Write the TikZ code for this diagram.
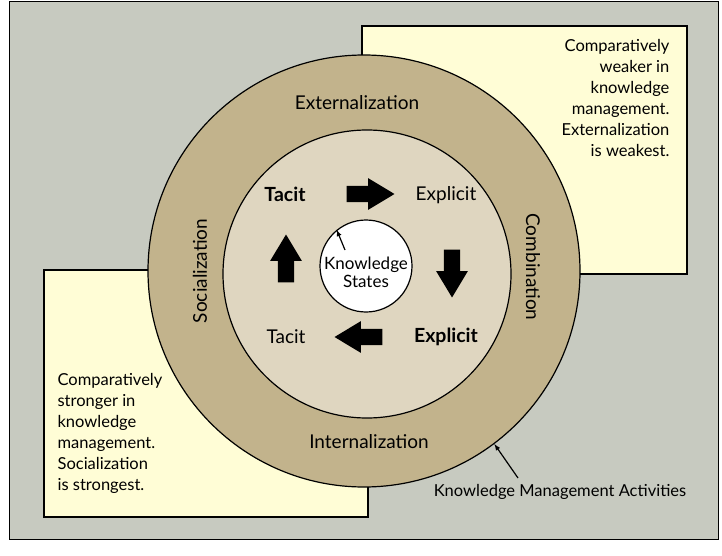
\documentclass[tikz,border=0pt]{standalone}
\usepackage{fontspec}
\setmainfont{Lato}
\usetikzlibrary{arrows}
\usetikzlibrary{shapes.arrows}
\usetikzlibrary{positioning}

\definecolor{framegray}{RGB}{199,202,192}
\definecolor{noteyellow}{RGB}{255,253,214}
\definecolor{ringtan}{RGB}{194,179,140}
\definecolor{innertan}{RGB}{223,214,192}

\tikzset{
  notetext/.style={font=\fontsize{16.5}{21}\selectfont,inner sep=0pt},
  ringtext/.style={font=\fontsize{19}{22}\selectfont},
  stateplain/.style={font=\fontsize{19}{22}\selectfont},
  statebold/.style={font=\fontsize{19.5}{22}\selectfont\bfseries},
  blockarrow/.style={single arrow,fill=black,draw=black,minimum height=46pt,
    minimum width=29pt,inner sep=7pt,single arrow head indent=0pt,
    single arrow tip angle=62}
}

\begin{document}
\begin{tikzpicture}
				[x=1pt,y=-1pt,line width=1.2pt]
				\useasboundingbox (0,0) rectangle (722,556);
				% background and the two notes
				\draw[fill=framegray,line width=1pt] (9,2) rectangle (718,539);
				\draw[fill=noteyellow] (362,26) rectangle (687,274);
				\draw[fill=noteyellow] (44,270) rectangle (368,517);
				
				% rings
				\node[circle,draw,fill=ringtan,minimum size=432pt] (outer) at (364,271) {};
				\node[circle,draw,fill=innertan,minimum size=288pt] (inner) at (367,274) {};
				\node[circle,draw,fill=white,minimum size=92pt] (states) at (366,266) {};
				\node[font=\fontsize{17}{20}\selectfont,align=center] (statestext) at (366,272) {Knowledge\\[-2pt]States};
				
				% activities
				\node[ringtext] (ext) at (357,103) {Externalization};
				\node[ringtext] (int) at (369,442) {Internalization};
				\node[ringtext,rotate=90] (soc) at (200,271) {Socialization};
				\node[ringtext,rotate=-90] (comb) at (533,267) {Combination};
				
				% knowledge states
				\node[statebold] (tacit1) at (285,194) {Tacit};
				\node[stateplain] (explicit1) at (446,195) {Explicit};
				\node[statebold] (explicit2) at (446,337) {Explicit};
				\node[stateplain] (tacit2) at (286,337) {Tacit};
				
				\node[blockarrow] (a1) at (364,194) {};
				\node[blockarrow,rotate=-90] (a2) at (452,267) {};
				\node[blockarrow,rotate=180] (a3) at (365,337) {};
				\node[blockarrow,rotate=90] (a4) at (286,265) {};
				
				% notes
				\node[notetext,align=right,anchor=north east] (weaker) at (670,39)
					{Comparatively\\weaker in\\knowledge\\management.\\Externalization\hspace{5pt}\\is weakest.};
				\node[notetext,align=left,anchor=north west] (stronger) at (57,373)
					{Comparatively\\stronger in\\knowledge\\management.\\Socialization\\is strongest.};
				
				% pointers
				\node[notetext] (kma) at (560,492) {Knowledge Management Activities};
				\coordinate (kmatail) at (518,478);
				\coordinate (statestail) at (345,250);
				\draw[-latex] (kmatail) -- (outer.-53);
				\draw[-latex] (statestail) -- (states.129);
			\end{tikzpicture}
\end{document}
